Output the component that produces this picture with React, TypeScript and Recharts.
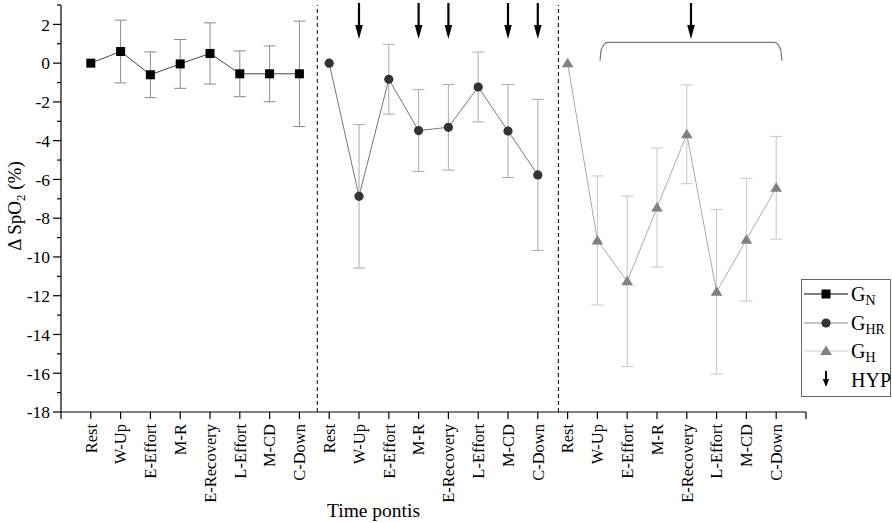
import React from 'react';
import {
  ComposedChart, Line, Scatter, XAxis, YAxis, ErrorBar, ReferenceLine,
} from 'recharts';

const FONT = '"Liberation Serif", "Times New Roman", serif';

// time points, repeated for each group
const phases = ['Rest', 'W-Up', 'E-Effort', 'M-R', 'E-Recovery', 'L-Effort', 'M-CD', 'C-Down'];

// G_N
const gnMean = [0, 0.6, -0.6, -0.04, 0.5, -0.55, -0.55, -0.55];
const gnErr = [0, 1.62, 1.18, 1.26, 1.58, 1.18, 1.44, 2.72];
// G_HR
const ghrMean = [0, -6.87, -0.83, -3.48, -3.31, -1.23, -3.5, -5.77];
const ghrErr = [0, 3.7, 1.8, 2.11, 2.21, 1.8, 2.4, 3.9];
// G_H
const ghMean = [0, -9.15, -11.26, -7.45, -3.67, -11.8, -9.11, -6.43];
const ghErr = [0, 3.33, 4.4, 3.07, 2.55, 4.24, 3.17, 2.65];

// hypoxia arrows (x positions) and the bracket over the G_H group
const hypX = [10, 12, 13, 15, 16, 21.14];
const hypY = 3;
const bracketX = [18.09, 18.13, 18.33, 23.95, 24.15, 24.19];
const bracketY = [0.12, 0.7, 1.07, 1.07, 0.7, 0.12];
const dividers = [8.6, 16.69];

const xTicks = [0, 1, 2, 3, 4, 5, 6, 7, 8, 9, 10, 11, 12, 13, 14, 15, 16, 17, 18, 19, 20, 21, 22, 23, 24, 25];
const xTickLabels = ['', ...phases, ...phases, ...phases, ''];
const yTicks = [-18, -17, -16, -15, -14, -13, -12, -11, -10, -9, -8, -7, -6, -5, -4, -3, -2, -1, 0, 1, 2, 3];

const toPoints = (offset: number, means: number[], errs: number[]) =>
  means.map((m, i) => ({ x: offset + i + 1, y: m, err: errs[i] }));

const gnData = toPoints(0, gnMean, gnErr);
const ghrData = toPoints(8, ghrMean, ghrErr);
const ghData = toPoints(16, ghMean, ghErr);
const hypData = hypX.map((x) => ({ x, y: hypY }));
const bracketData = bracketX.map((x, i) => ({ x, y: bracketY[i] }));

const SquareDot = (p: any) =>
  p.cx == null ? null : (
    <rect key={`gn-${p.index}`} x={p.cx - 4.5} y={p.cy - 4.5} width={9} height={9} fill="#000" />
  );

const CircleDot = (p: any) =>
  p.cx == null ? null : <circle key={`ghr-${p.index}`} cx={p.cx} cy={p.cy} r={4.6} fill="#333" />;

const TriangleDot = (p: any) =>
  p.cx == null ? null : (
    <path
      key={`gh-${p.index}`}
      d={`M${p.cx},${p.cy - 5.5} L${p.cx + 5.8},${p.cy + 4} L${p.cx - 5.8},${p.cy + 4} Z`}
      fill="#808080"
    />
  );

const HypArrow = (p: any) => (
  <g>
    <line x1={p.cx} x2={p.cx} y1={p.cy - 2} y2={p.cy + 22} stroke="#000" strokeWidth={2.2} />
    <path d={`M${p.cx - 3.8},${p.cy + 20} L${p.cx + 3.8},${p.cy + 20} L${p.cx},${p.cy + 34} Z`} fill="#000" />
  </g>
);

const XTick = (p: any) => {
  const label = xTickLabels[p.payload.value];
  const tx = p.x + 5.8;
  return (
    <text
      x={tx}
      y={p.y}
      transform={`rotate(-90, ${tx}, ${p.y})`}
      textAnchor="end"
      fontFamily={FONT}
      fontSize={16.5}
      fill="#000"
    >
      {label}
    </text>
  );
};

const YTick = (p: any) => {
  const major = p.payload.value % 2 === 0;
  return (
    <g>
      <line x1={p.x - (major ? 8 : 4)} x2={p.x} y1={p.y} y2={p.y} stroke="#000" strokeWidth={1.2} />
      {major && (
        <text x={p.x - 11} y={p.y} dy="0.36em" textAnchor="end" fontFamily={FONT} fontSize={17.5} fill="#000">
          {p.payload.value}
        </text>
      )}
    </g>
  );
};

const YLabel = () => (
  <text
    x={21}
    y={206}
    transform="rotate(-90, 21, 206)"
    textAnchor="middle"
    fontFamily={FONT}
    fontSize={19}
    fill="#000"
  >
    Δ SpO<tspan fontSize={13} dy={4}>2</tspan><tspan dy={-4}> (%)</tspan>
  </text>
);

const XLabel = (p: any) => (
  <text
    x={p.viewBox.x + p.viewBox.width / 2 - 60}
    y={517}
    textAnchor="middle"
    fontFamily={FONT}
    fontSize={19.5}
    fill="#000"
  >
    Time pontis
  </text>
);

const LegendSymbol = ({ line, children }: { line: string; children?: React.ReactNode }) => (
  <svg width={46} height={20} style={{ display: 'block' }}>
    {line && <line x1={1} x2={45} y1={10} y2={10} stroke={line} strokeWidth={1} />}
    {children}
  </svg>
);

const legendRows = [
  { key: 'gn', main: 'G', sub: 'N', line: '#000', marker: <rect x={18.5} y={5.5} width={9} height={9} fill="#000" /> },
  { key: 'ghr', main: 'G', sub: 'HR', line: '#888', marker: <circle cx={23} cy={10} r={4.6} fill="#333" /> },
  { key: 'gh', main: 'G', sub: 'H', line: '#ccc', marker: <path d="M23,4.5 L28.8,14 L17.2,14 Z" fill="#808080" /> },
];

const ChartLegend = () => (
  <div
    style={{
      position: 'absolute', left: 801, top: 279, width: 88, height: 116,
      border: '1px solid #666', background: '#fff', fontFamily: FONT, color: '#000',
    }}
  >
    {legendRows.map((r, i) => (
      <div key={r.key} style={{ position: 'absolute', left: 1, top: i * 28.7, height: 28, display: 'flex', alignItems: 'center' }}>
        <LegendSymbol line={r.line}>{r.marker}</LegendSymbol>
        <span style={{ fontSize: 20, marginLeft: 2, lineHeight: '20px' }}>
          {r.main}
          <sub style={{ fontSize: 14, verticalAlign: '-4px', lineHeight: 0 }}>{r.sub}</sub>
        </span>
      </div>
    ))}
    <div style={{ position: 'absolute', left: 1, top: 86, height: 28, display: 'flex', alignItems: 'center' }}>
      <LegendSymbol line="">
        <line x1={23} x2={23} y1={1} y2={10} stroke="#000" strokeWidth={2} />
        <path d="M19.8,9 L26.2,9 L23,17 Z" fill="#000" />
      </LegendSymbol>
      <span style={{ fontSize: 20, marginLeft: 2, lineHeight: '20px' }}>HYP</span>
    </div>
  </div>
);

export default function App() {
  return (
    <div style={{ position: 'absolute', left: 0, top: 0, width: 892, height: 523, background: '#fff' }}>
      <ComposedChart width={892} height={523} margin={{ top: 5, right: 86, bottom: 0, left: 0 }}>
        <XAxis
          dataKey="x"
          type="number"
          domain={[0, 25]}
          ticks={xTicks}
          interval={0}
          height={111}
          tickSize={7}
          tickMargin={5}
          axisLine={{ stroke: '#000', strokeWidth: 1.2 }}
          tickLine={{ stroke: '#000', strokeWidth: 1.2 }}
          tick={(p: any) => <XTick {...p} />}
          label={{ content: (p: any) => <XLabel {...p} /> }}
        />
        <YAxis
          type="number"
          domain={[-18, 3]}
          ticks={yTicks}
          interval={0}
          width={61}
          tickSize={0}
          tickMargin={0}
          tickLine={false}
          axisLine={{ stroke: '#000', strokeWidth: 1.2 }}
          tick={(p: any) => <YTick {...p} />}
          label={{ content: () => <YLabel /> }}
        />
        {dividers.map((d) => (
          <ReferenceLine key={d} x={d} stroke="#000" strokeWidth={1} strokeDasharray="4 3" />
        ))}
        <Line
          data={gnData}
          dataKey="y"
          stroke="#444"
          strokeWidth={1}
          dot={SquareDot}
          activeDot={false}
          isAnimationActive={false}
        >
          <ErrorBar dataKey="err" width={6} stroke="#8a8a8a" strokeWidth={1} direction="y" />
        </Line>
        <Line
          data={ghrData}
          dataKey="y"
          stroke="#777"
          strokeWidth={1}
          dot={CircleDot}
          activeDot={false}
          isAnimationActive={false}
        >
          <ErrorBar dataKey="err" width={6} stroke="#aaa" strokeWidth={1} direction="y" />
        </Line>
        <Line
          data={ghData}
          dataKey="y"
          stroke="#aaa"
          strokeWidth={1}
          dot={TriangleDot}
          activeDot={false}
          isAnimationActive={false}
        >
          <ErrorBar dataKey="err" width={6} stroke="#c6c6c6" strokeWidth={1} direction="y" />
        </Line>
        <Line
          data={bracketData}
          dataKey="y"
          type="monotoneX"
          stroke="#777"
          strokeWidth={1.2}
          dot={false}
          activeDot={false}
          isAnimationActive={false}
        />
        <Scatter data={hypData} dataKey="y" shape={HypArrow} isAnimationActive={false} />
      </ComposedChart>
      <ChartLegend />
    </div>
  );
}
